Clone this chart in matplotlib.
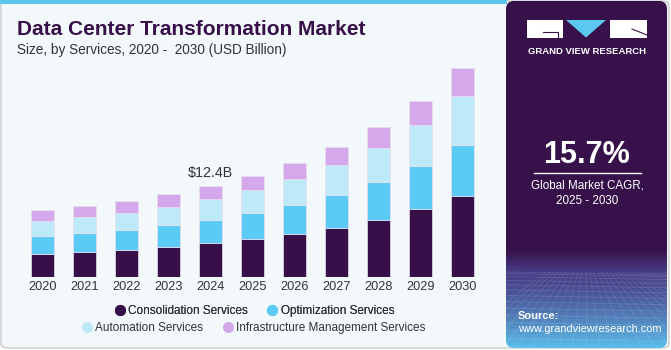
import numpy as np
import matplotlib
matplotlib.use('Agg')
import matplotlib.pyplot as plt
from matplotlib.patches import FancyBboxPatch, Rectangle, Polygon
from matplotlib.lines import Line2D

plt.rcParams['font.family'] = ['Liberation Sans', 'DejaVu Sans']

# data (USD Billion)
years = ['2020', '2021', '2022', '2023', '2024', '2025', '2026', '2027', '2028', '2029', '2030']
consolidation = [3.15, 3.42, 3.69, 4.10, 4.57, 5.12, 5.84, 6.70, 7.80, 9.22, 11.08]
optimization = [2.42, 2.60, 2.74, 2.93, 3.23, 3.56, 3.93, 4.51, 5.16, 5.92, 6.98]
automation = [2.05, 2.15, 2.33, 2.54, 2.79, 3.15, 3.60, 4.02, 4.69, 5.61, 6.70]
infrastructure = [1.46, 1.46, 1.60, 1.74, 1.82, 1.96, 2.15, 2.50, 2.83, 3.28, 3.83]
series_names = ['Consolidation Services', 'Optimization Services',
                'Automation Services', 'Infrastructure Management Services']
colors = ['#37104a', '#5bcbf5', '#bde9f9', '#d4a8eb']
highlight_idx = 4
highlight_label = '$12.4B'

W, H = 671, 350


def fx(px):
    return px / W


def fy(py):
    return 1 - py / H


fig = plt.figure(figsize=(W / 100, H / 100), dpi=100)
fig.patch.set_facecolor('white')

# card background
card = FancyBboxPatch((fx(1), fy(348)), fx(668), 347 / H,
                      boxstyle='round,pad=0,rounding_size=0.012',
                      transform=fig.transFigure, facecolor='#f3f8fb',
                      edgecolor='#c9c9c9', linewidth=1.0, zorder=-2)
fig.add_artist(card)
fig.add_artist(Rectangle((0, fy(4)), fx(507), 4 / H, transform=fig.transFigure,
                         facecolor='#5cc6ee', edgecolor='none', zorder=-1))

# bar chart
ax = fig.add_axes([fx(19.9), fy(276.7), fx(483.6 - 19.9), (276.7 - 60) / H])
ax.set_facecolor('none')
x = np.arange(len(years))
bottom = np.zeros(len(years))
for vals, c in zip([consolidation, optimization, automation, infrastructure], colors):
    ax.bar(x, vals, width=0.555, bottom=bottom, color=c,
           edgecolor='#e9e0f0', linewidth=0.5)
    bottom += np.array(vals)
ax.set_xlim(-0.54, 10.5)
ax.set_ylim(0, (276.7 - 60) / 7.31)
for s in ax.spines.values():
    s.set_visible(False)
ax.set_yticks([])
ax.set_xticks(x)
ax.set_xticklabels(years, fontsize=9.2, color='#333333')
ax.tick_params(axis='x', length=0, pad=3)
ax.text(highlight_idx, bottom[highlight_idx] + 0.8, highlight_label,
        ha='center', va='bottom', fontsize=10.3, color='#333333')

# titles
fig.text(fx(17), fy(35), 'Data Center Transformation Market', fontsize=15,
         fontweight='bold', color='#37104a', va='baseline')
fig.text(fx(17), fy(54), 'Size, by Services, 2020 -  2030 (USD Billion)',
         fontsize=9.8, color='#333333', va='baseline')

# legend rows
leg_handles = [Line2D([], [], marker='o', linestyle='none', markersize=7,
                      markerfacecolor=c, markeredgecolor=c) for c in colors]
leg1 = fig.legend(leg_handles[:2], series_names[:2], loc='center',
                  bbox_to_anchor=(fx(254), fy(311)), ncol=2, frameon=False,
                  fontsize=8.5, handletextpad=0.2, columnspacing=1.6,
                  handlelength=1.0, borderpad=0)
leg2 = fig.legend(leg_handles[2:], series_names[2:], loc='center',
                  bbox_to_anchor=(fx(253), fy(328)), ncol=2, frameon=False,
                  fontsize=8.5, handletextpad=0.2, columnspacing=1.6,
                  handlelength=1.0, borderpad=0)
for lg in (leg1, leg2):
    for t in lg.get_texts():
        t.set_color('#333333')
fig.add_artist(leg1)

# right panel with gradient
pax = fig.add_axes([fx(506), fy(348), fx(161), 347 / H])
pax.set_xlim(0, 161)
pax.set_ylim(348, 1)
pax.axis('off')
rows = np.linspace(1, 348, 400)
grad = np.zeros((400, 1, 3))
top_c = np.array([0x37, 0x11, 0x4a]) / 255
mid_c = np.array([0x47, 0x3c, 0x86]) / 255
bot_c = np.array([0x5a, 0xbd, 0xea]) / 255
for i, r in enumerate(rows):
    if r < 250:
        grad[i, 0] = top_c
    elif r < 272:
        t = (r - 250) / 22
        grad[i, 0] = top_c * (1 - t) + mid_c * t
    else:
        t = ((r - 272) / 76) ** 1.3
        grad[i, 0] = mid_c * (1 - t) + bot_c * t
im = pax.imshow(grad, extent=(0, 161, 348, 1), aspect='auto')
clip = FancyBboxPatch((0, 1), 161, 347, boxstyle='round,pad=0,rounding_size=8',
                      transform=pax.transData, facecolor='none', edgecolor='none')
pax.add_patch(clip)
im.set_clip_path(clip)
# faint perspective grid
for k in range(14):
    yy = 272 + (k ** 1.5) * 1.6
    pax.plot([0, 161], [yy, yy + 3], color='white', alpha=0.13, lw=0.6)
for k in range(-10, 22):
    x0 = 80 + k * 4
    x1 = 80 + k * 14
    pax.plot([x0, x1], [272, 348], color='white', alpha=0.11, lw=0.6)

# logo
pax.add_patch(Rectangle((527 - 506, 20), 36, 18, facecolor='white', edgecolor='none'))
pax.plot([543 - 506, 558 - 506, 558 - 506], [32, 32, 38], color='#37114a', lw=0.8)
pax.add_patch(Polygon([(566 - 506, 20), (606 - 506, 20), (586 - 506, 37.5)],
                      closed=True, facecolor='#5bc8f0', edgecolor='none'))
pax.add_patch(Rectangle((610 - 506, 20), 37.5, 18, facecolor='white', edgecolor='none'))
pax.plot([632 - 506, 647 - 506], [29, 35], color='#37114a', lw=0.8)
pax.text(587 - 506, 51, 'GRAND VIEW RESEARCH', color='white', fontsize=6.8,
         fontweight='bold', ha='center', va='center')

# CAGR
pax.text(587 - 506, 155, '15.7%', color='white', fontsize=22, fontweight='bold',
         ha='center', va='center')
pax.plot([534 - 506, 641 - 506], [173.3, 173.3], color='white', lw=1.0)
pax.text(587 - 506, 185, 'Global Market CAGR,', color='white', fontsize=8.4,
         ha='center', va='center')
pax.text(587 - 506, 201, '2025 - 2030', color='white', fontsize=8.4,
         ha='center', va='center')

# source
pax.text(518 - 506, 316, 'Source:', color='white', fontsize=8.0,
         fontweight='bold', ha='left', va='center')
pax.text(518 - 506, 329.5, 'www.grandviewresearch.com', color='white', fontsize=7.9,
         ha='left', va='center')

fig.savefig('out.png', dpi=100, facecolor=fig.get_facecolor())
